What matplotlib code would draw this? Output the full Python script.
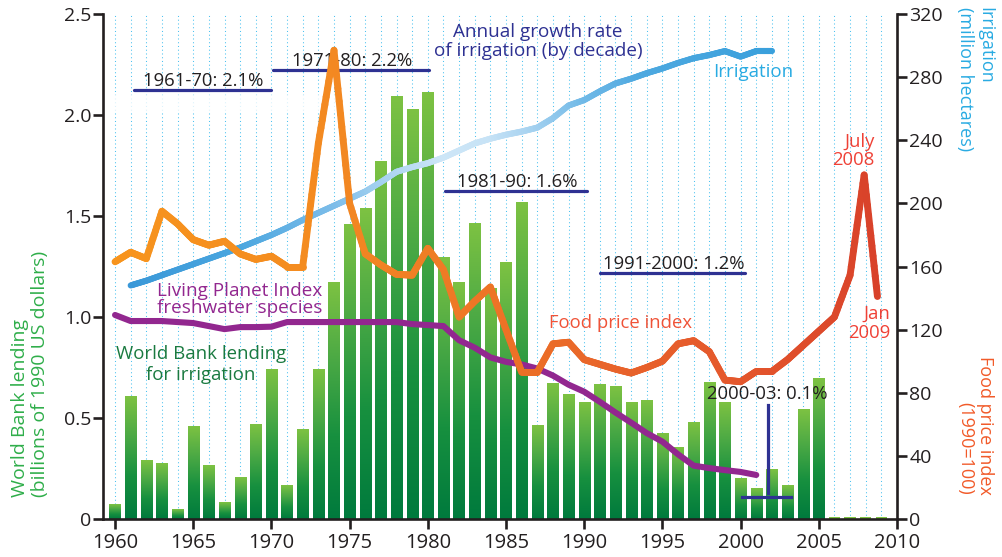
import numpy as np
import matplotlib
matplotlib.use('Agg')
import matplotlib.pyplot as plt
from matplotlib.collections import LineCollection
from matplotlib.colors import LinearSegmentedColormap
from matplotlib.patches import Rectangle

plt.rcParams['font.family'] = ['Open Sans', 'DejaVu Sans']

# ---------------- data ----------------
lend_years = list(range(1960, 2010))
lending = [0.07, 0.605, 0.29, 0.275, 0.045, 0.46, 0.265, 0.08, 0.205, 0.47,
           0.74, 0.165, 0.445, 0.74, 1.17, 1.46, 1.535, 1.77, 2.09, 2.025,
           2.11, 1.295, 1.17, 1.465, 1.14, 1.27, 1.565, 0.465, 0.67, 0.615,
           0.575, 0.665, 0.655, 0.575, 0.585, 0.425, 0.355, 0.48, 0.675, 0.575,
           0.2, 0.15, 0.245, 0.165, 0.54, 0.695, 0.008, 0.008, 0.008, 0.008]

irr_years = list(range(1961, 2003))
irrigation = [148, 151, 154.5, 158, 161.5, 165, 168.5, 172, 176, 180,
              184.5, 189.5, 194, 198.5, 203, 207.5, 213.5, 220, 223, 225.5,
              229, 233.5, 238, 241, 243.5, 245.5, 248, 254, 262, 265.5,
              271, 276, 279, 282.5, 285.5, 289, 292, 294, 296.5, 293,
              296.5, 296.5]

food_years = list(range(1960, 2008)) + [2007.9, 2008.75]
food_price = [163, 169, 165, 195, 187, 177, 173.5, 176, 168, 164.5,
              166.5, 160, 160, 238, 297, 200, 168, 161, 155, 154.5,
              171.5, 158, 128, 138, 147, 120, 93, 93, 111, 112,
              101, 98, 95, 92.5, 96, 100, 111, 113, 106, 88,
              87, 93.5, 93.5, 101, 110, 119, 128, 154.5, 218, 141]

lpi_years = list(range(1960, 2002))
lpi = [1.01, 0.98, 0.98, 0.98, 0.975, 0.97, 0.955, 0.94, 0.95, 0.95,
       0.952, 0.975, 0.975, 0.975, 0.975, 0.975, 0.975, 0.975, 0.975, 0.965,
       0.96, 0.955, 0.885, 0.848, 0.80, 0.778, 0.765, 0.745, 0.71, 0.665,
       0.63, 0.58, 0.527, 0.477, 0.425, 0.383, 0.32, 0.264, 0.252, 0.242,
       0.233, 0.218]

decade_labels = ['1961-70: 2.1%', '1971-80: 2.2%', '1981-90: 1.6%', '1991-2000: 1.2%']
decade_start = [1961.2, 1970.1, 1981.1, 1991.0]
decade_end = [1970.0, 1980.1, 1990.2, 2000.3]
last_label = '2000-03: 0.1%'
last_start, last_end = 2000.1, 2003.2

x_ticks = list(range(1960, 2011, 5))
left_ticks = [0, 0.5, 1.0, 1.5, 2.0, 2.5]
left_ticklabels = ['0', '0.5', '1.0', '1.5', '2.0', '2.5']
right_ticks = list(range(0, 321, 40))

# ---------------- figure ----------------
W, H = 1003, 557
fig = plt.figure(figsize=(W / 100, H / 100), dpi=100)
L, R, T, B = 103, 897, 14, 519
ax = fig.add_axes([L / W, 1 - B / H, (R - L) / W, (B - T) / H])
ax2 = ax.twinx()

XMIN, XMAX = 1959.23, 2010.0
YMAX = 2.5

# dotted vertical guide lines
for yr in lend_years:
    ax.plot([yr, yr], [0, YMAX], color='#4cc2f1', lw=0.75, ls=(0, (1, 2.6)), zorder=1)

# faint white band
ax.add_patch(Rectangle((XMIN, 2.01), 1974.9 - XMIN, 0.09, facecolor='white',
                       edgecolor='none', alpha=0.8, zorder=1.5))

# gradient bars
bar_cmap = LinearSegmentedColormap.from_list(
    'bars', [(0.0, '#007a3d'), (0.35, '#17903f'), (0.7, '#4fab45'), (1.0, '#7dc242')])
grad = np.linspace(0, 1, 256).reshape(-1, 1)
bw = 0.72
for x, h in zip(lend_years, lending):
    if h < 0.02:
        ax.bar(x, h, width=bw, color='#7dc242', zorder=2)
    else:
        ax.imshow(grad, extent=[x - bw / 2, x + bw / 2, 0, h], origin='lower',
                  cmap=bar_cmap, aspect='auto', zorder=2, interpolation='bilinear')


def gradient_line(a, xs, ys, cmap, x0, x1, lw, zorder, sub=12):
    xs = np.asarray(xs, float)
    ys = np.asarray(ys, float)
    t = np.linspace(0, 1, sub + 1)
    segs, vals = [], []
    for i in range(len(xs) - 1):
        px = xs[i] + (xs[i + 1] - xs[i]) * t
        py = ys[i] + (ys[i + 1] - ys[i]) * t
        for j in range(sub):
            segs.append([(px[j], py[j]), (px[j + 1], py[j + 1])])
            vals.append(((px[j] + px[j + 1]) / 2 - x0) / (x1 - x0))
    cols = cmap(np.clip(vals, 0, 1))
    lc = LineCollection(segs, colors=cols, linewidths=lw, capstyle='round',
                        joinstyle='round', zorder=zorder)
    a.add_collection(lc)


# Living Planet Index (left axis)
ax.plot(lpi_years, lpi, color='#92278f', lw=4.4, solid_capstyle='round',
        solid_joinstyle='round', zorder=4)

# decade annotations
dec_y_line = [2.124, 2.223, 1.625, 1.219]
dec_y_text = [2.170, 2.269, 1.670, 1.264]
for lab, s, e, yl, yt in zip(decade_labels, decade_start, decade_end, dec_y_line, dec_y_text):
    ax.plot([s, e], [yl, yl], color='#2e3192', lw=2.3, zorder=5, solid_capstyle='round')
    ax.text((s + e) / 2 + 0.05, yt, lab, ha='center', va='center', fontsize=13.3,
            color='#231f20', zorder=6)
ax.plot([last_start, last_end], [0.11, 0.11], color='#2e3192', lw=2.3, zorder=5)
ax.plot([2001.72, 2001.72], [0.127, 0.564], color='#2e3192', lw=2.3, zorder=5)
ax.text(2001.69, 0.621, last_label, ha='center', va='center', fontsize=13.3,
        color='#231f20', zorder=6)

# in-chart texts
ax.text(1987.05, 2.366, 'Annual growth rate\nof irrigation (by decade)', ha='center',
        va='center', fontsize=13.6, color='#2e3192', linespacing=1.08, zorder=6)
ax.text(2000.79, 2.214, 'Irrigation', ha='center', va='center', fontsize=13.5,
        color='#29abe2', zorder=6)
ax.text(1967.99, 1.087, 'Living Planet Index\nfreshwater species', ha='center',
        va='center', fontsize=13.6, color='#92278f', linespacing=0.88, zorder=6)
ax.text(1965.5, 0.764, 'World Bank lending\nfor irrigation', ha='center',
        va='center', fontsize=13.4, color='#1a7a40', linespacing=1.2, zorder=6)
ax.text(1992.29, 0.970, 'Food price index', ha='center', va='center', fontsize=13.3,
        color='#ef5338', zorder=6)
ax.text(2008.59, 1.822, 'July\n2008', ha='right', va='center', fontsize=13.3,
        color='#ef4136', linespacing=1.05, multialignment='right', zorder=6)
ax.text(2009.55, 0.969, 'Jan\n2009', ha='right', va='center', fontsize=13.3,
        color='#ef4136', linespacing=1.05, multialignment='right', zorder=6)

# right axis lines
irr_cmap = LinearSegmentedColormap.from_list('irr', [
    (0.0, '#3a98d8'), (0.17, '#4aa6df'), (0.32, '#7dbde9'), (0.41, '#aed6f2'),
    (0.49, '#cde6f7'), (0.56, '#c7e3f6'), (0.63, '#a6d2f0'), (0.71, '#70b9e7'),
    (0.80, '#4ea9e0'), (1.0, '#3aa0dc')])
gradient_line(ax2, irr_years, irrigation, irr_cmap, 1961, 2002, 4.4, 3)

food_cmap = LinearSegmentedColormap.from_list('food', [
    (0.0, '#f7941d'), (0.245, '#f48c20'), (0.41, '#ef7d25'), (0.53, '#ec7026'),
    (0.65, '#e8642b'), (0.82, '#e4572c'), (1.0, '#d8412a')])
gradient_line(ax2, food_years, food_price, food_cmap, 1960, 2009, 5.0, 4)

# axes styling
ax.set_xlim(XMIN, XMAX)
ax.set_ylim(0, YMAX)
ax2.set_ylim(0, 320)
ax.set_xticks(x_ticks)
ax.set_yticks(left_ticks)
ax.set_yticklabels(left_ticklabels)
ax2.set_yticks(right_ticks)
for a in (ax, ax2):
    a.spines['top'].set_visible(False)
    for s in a.spines.values():
        s.set_linewidth(1.9)
        s.set_color('#231f20')
ax2.spines['left'].set_visible(False)
ax2.spines['bottom'].set_visible(False)
ax.spines['right'].set_visible(False)
ax.tick_params(axis='x', direction='out', length=7, width=1.9, labelsize=14.5,
               pad=3, colors='#231f20')
ax.tick_params(axis='y', direction='out', length=7, width=1.9, labelsize=14,
               pad=1.5, colors='#231f20')
ax2.tick_params(axis='y', direction='out', length=7, width=1.9, labelsize=14,
                pad=2, colors='#231f20')
ax.patch.set_visible(False)

# axis titles
fig.text(30 / W, 1 - 497 / H, 'World Bank lending\n(billions of 1990 US dollars)',
         rotation=90, ha='center', va='bottom', multialignment='left',
         color='#2fae4a', fontsize=14, linespacing=1.1)
fig.text(975 / W, 1 - 7 / H, 'Irrigation\n(million hectares)', rotation=270,
         ha='center', va='top', multialignment='left', color='#29abe2',
         fontsize=13, linespacing=1.15)
fig.text(975 / W, 1 - 495 / H, 'Food price index\n(1990=100)', rotation=270,
         ha='center', va='bottom', multialignment='right', color='#f15a29',
         fontsize=13, linespacing=1.15)

fig.savefig('out.png', dpi=100)
